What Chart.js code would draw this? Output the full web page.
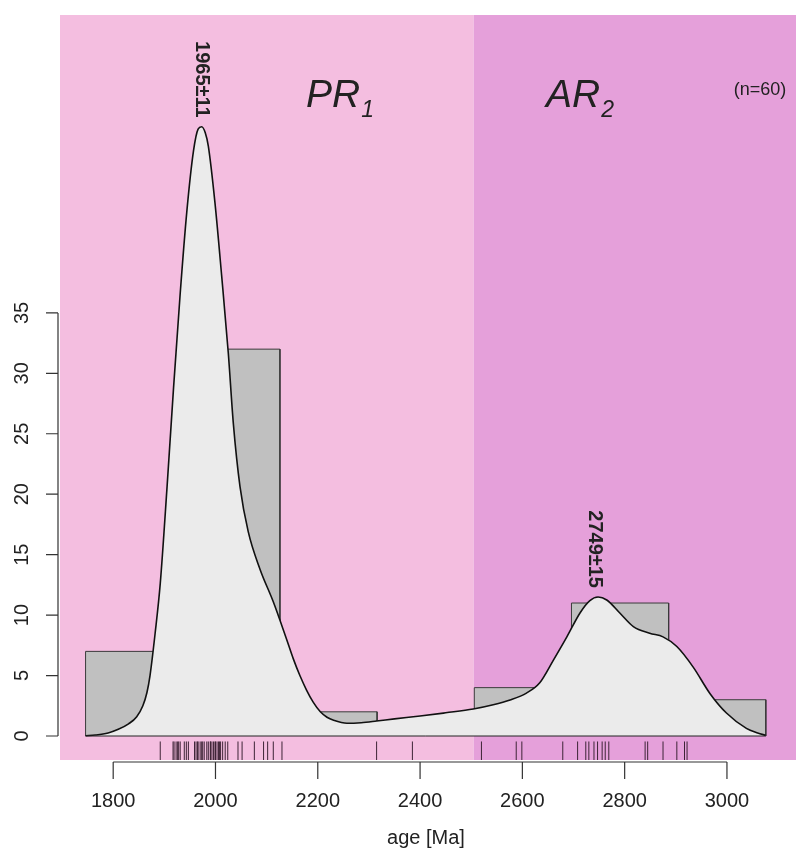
<!DOCTYPE html>
<html><head><meta charset="utf-8">
<script src="https://cdn.jsdelivr.net/npm/chart.js@4.4.1/dist/chart.umd.min.js"></script>
<style>html,body{margin:0;padding:0;background:#fff;overflow:hidden;} #wrap{width:798px;height:850px;} canvas{display:block;}</style>
</head><body><div id="wrap"><canvas id="c" width="798" height="850"></canvas></div>
<script>
// ---- data ----
const xTicks = [1800, 2000, 2200, 2400, 2600, 2800, 3000];
const yTicks = [0, 5, 10, 15, 20, 25, 30, 35];
const binEdges = [1746, 1936, 2126, 2316, 2506, 2696, 2886, 3076];
const binCounts = [7, 32, 2, 1, 4, 11, 3];
const kdeAge = [1746, 1765, 1790, 1810, 1830, 1846, 1858, 1866, 1872, 1882, 1892, 1905, 1918, 1931, 1944, 1957, 1966, 1973, 1980, 1986, 1999, 2012, 2025, 2035, 2048, 2064, 2087, 2113, 2139, 2152, 2165, 2178, 2191, 2205, 2218, 2231, 2257, 2285, 2315, 2350, 2400, 2450, 2504, 2543, 2576, 2608, 2634, 2661, 2687, 2713, 2732, 2748, 2765, 2791, 2817, 2849, 2875, 2902, 2934, 2967, 2999, 3038, 3060, 3076];
const kdeValue = [0.02, 0.08, 0.25, 0.55, 1.0, 1.6, 2.5, 3.6, 5.0, 8.5, 12.6, 20.4, 28.8, 36.6, 43.4, 48.4, 50.2, 50.4, 49.9, 48.8, 44.1, 38.1, 31.7, 25.8, 20.6, 16.9, 13.8, 11.1, 8.0, 6.4, 5.0, 3.8, 2.8, 2.0, 1.55, 1.3, 1.05, 1.1, 1.24, 1.42, 1.65, 1.92, 2.23, 2.58, 2.98, 3.55, 4.4, 6.3, 8.2, 10.2, 11.2, 11.5, 11.25, 10.15, 9.05, 8.5, 8.2, 7.4, 5.7, 3.5, 1.9, 0.63, 0.25, 0.05];
const rugAges = [1892, 1917, 1919, 1923, 1926, 1928, 1931, 1939, 1943, 1947, 1959, 1962, 1965, 1966, 1970, 1973, 1975, 1978, 1983, 1986, 1990, 1990, 1993, 1996, 1999, 2000, 2003, 2006, 2008, 2010, 2014, 2019, 2024, 2044, 2052, 2076, 2094, 2102, 2113, 2130, 2315, 2385, 2520, 2588, 2599, 2679, 2708, 2724, 2730, 2740, 2747, 2756, 2762, 2769, 2840, 2845, 2875, 2902, 2917, 2922];
const peakLabels = ['1965\u00B111', '2749\u00B115'];
const peakAges = [1973, 2742];
const periodNames = ['PR', 'AR'];
const periodSubs = ['1', '2'];
const periodBounds = [1696, 2505, 3135];
const sampleLabel = '(n=60)';
const xTitle = 'age [Ma]';

// ---- derived tables ----
const histPts = [];
for (let i = 0; i < binCounts.length; i++) {
  histPts.push({x: binEdges[i], y: 0}, {x: binEdges[i], y: binCounts[i]},
               {x: binEdges[i + 1], y: binCounts[i]}, {x: binEdges[i + 1], y: 0});
}
const kdePts = kdeAge.map((a, i) => ({x: a, y: kdeValue[i]}));
const RUG_Y = -1.28;
const rugPts = rugAges.map(a => ({x: a, y: RUG_Y}));

const FONT = '"Liberation Sans", Arial, sans-serif';
const TXT = '#222';

const frame = {
  id: 'frame',
  beforeDraw(chart) {
    const {ctx, chartArea: a, scales: {x}} = chart;
    ctx.save();
    ctx.fillStyle = '#fff';
    ctx.fillRect(0, 0, chart.width, chart.height);
    const cols = ['#F4BEE0', '#E5A0DA'];
    for (let i = 0; i < periodNames.length; i++) {
      const l = Math.max(a.left, x.getPixelForValue(periodBounds[i]));
      const r = Math.min(a.right, x.getPixelForValue(periodBounds[i + 1]));
      ctx.fillStyle = cols[i];
      ctx.fillRect(l, a.top, r - l, a.bottom - a.top);
    }
    ctx.restore();
  },
  afterDraw(chart) {
    const {ctx, chartArea: a, scales: {x, y}} = chart;
    ctx.save();
    ctx.strokeStyle = '#333';
    ctx.lineWidth = 1.2;
    // x axis
    const ay = a.bottom + 2;
    ctx.beginPath();
    ctx.moveTo(x.getPixelForValue(xTicks[0]), ay);
    ctx.lineTo(x.getPixelForValue(xTicks[xTicks.length - 1]), ay);
    xTicks.forEach(t => { const px = x.getPixelForValue(t); ctx.moveTo(px, ay); ctx.lineTo(px, ay + 17); });
    // y axis
    const ax = a.left - 2;
    ctx.moveTo(ax, y.getPixelForValue(yTicks[0]));
    ctx.lineTo(ax, y.getPixelForValue(yTicks[yTicks.length - 1]));
    yTicks.forEach(t => { const py = y.getPixelForValue(t); ctx.moveTo(ax, py); ctx.lineTo(ax - 12, py); });
    ctx.stroke();

    ctx.fillStyle = TXT;
    ctx.font = '20px ' + FONT;
    ctx.textAlign = 'center';
    ctx.textBaseline = 'middle';
    xTicks.forEach(t => ctx.fillText(String(t), x.getPixelForValue(t), 801));
    ctx.fillText(xTitle, (a.left + a.right) / 2 - 2, 838);
    yTicks.forEach(t => {
      ctx.save();
      ctx.translate(22, y.getPixelForValue(t));
      ctx.rotate(-Math.PI / 2);
      ctx.fillText(String(t), 0, 0);
      ctx.restore();
    });

    // peak labels
    ctx.font = 'bold 20px ' + FONT;
    peakLabels.forEach((lab, i) => {
      let best = 0;
      kdeAge.forEach((ag, j) => { if (Math.abs(ag - peakAges[i]) < 40) best = Math.max(best, kdeValue[j]); });
      ctx.save();
      ctx.translate(x.getPixelForValue(peakAges[i]), y.getPixelForValue(best) - 9);
      ctx.rotate(Math.PI / 2);
      ctx.textAlign = 'right';
      ctx.textBaseline = 'middle';
      ctx.fillText(lab, 0, 0);
      ctx.restore();
    });

    // period names
    ctx.textAlign = 'left';
    ctx.textBaseline = 'alphabetic';
    const starts = [306, 546];
    periodNames.forEach((nm, i) => {
      ctx.font = 'italic 39px ' + FONT;
      ctx.fillText(nm, starts[i], 107);
      const w = ctx.measureText(nm).width;
      ctx.font = 'italic 23px ' + FONT;
      ctx.fillText(periodSubs[i], starts[i] + w + 1, 117);
    });

    ctx.font = '18px ' + FONT;
    ctx.textAlign = 'center';
    ctx.textBaseline = 'middle';
    ctx.fillText(sampleLabel, 760, 90);
    ctx.restore();
  }
};

new Chart(document.getElementById('c'), {
  type: 'scatter',
  data: {
    datasets: [
      {type: 'line', data: histPts, borderColor: '#3a3a3a', borderWidth: 1, backgroundColor: '#C0C0C0',
       fill: 'origin', pointRadius: 0, tension: 0, order: 4},
      {type: 'line', data: kdePts, borderColor: '#111', borderWidth: 1.6, backgroundColor: '#EBEBEB',
       fill: 'origin', pointRadius: 0, cubicInterpolationMode: 'monotone', order: 3},
      {type: 'line', data: [{x: binEdges[0], y: 0}, {x: binEdges[binEdges.length - 1], y: 0}],
       borderColor: '#222', borderWidth: 1, pointRadius: 0, fill: false, order: 2},
      {type: 'scatter', data: rugPts, pointStyle: 'line', rotation: 90, pointRadius: 10,
       borderColor: '#3d2436', borderWidth: 1, order: 1}
    ]
  },
  options: {
    responsive: false, animation: false, devicePixelRatio: 1, events: [],
    layout: {autoPadding: false, padding: {left: 60, right: 2, top: 15, bottom: 90}},
    plugins: {legend: {display: false}, tooltip: {enabled: false}},
    scales: {
      x: {type: 'linear', min: 1696, max: 3135, display: false},
      y: {type: 'linear', min: -1.985, max: 59.64, display: false}
    }
  },
  plugins: [frame]
});
</script>
</body></html>
